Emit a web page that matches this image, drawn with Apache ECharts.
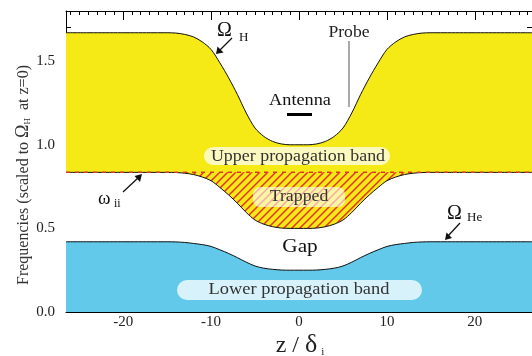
<!DOCTYPE html>
<html><head><meta charset="utf-8">
<script src="https://cdn.jsdelivr.net/npm/echarts@6/dist/echarts.min.js"></script>
<style>html,body{margin:0;padding:0;background:#fff}#c{width:532px;height:356px}</style>
</head><body><div id="c"></div>
<script>
const zValues = [-26.5,-15,-14,-13,-12,-11,-10,-9,-8,-7,-6,-5,-4,-3,-2,-1,0,1,2,3,4,5,6,7,8,9,10,11,12,13,14,15,26.5];
const omegaH  = [1.67,1.67,1.668,1.66,1.645,1.615,1.57,1.49,1.40,1.30,1.19,1.10,1.05,1.02,1.005,1.0,1.0,1.0,1.005,1.02,1.05,1.10,1.19,1.30,1.40,1.49,1.57,1.615,1.645,1.66,1.668,1.67,1.67];
const omegaII = [0.835,0.835,0.834,0.83,0.822,0.807,0.785,0.745,0.70,0.65,0.595,0.55,0.525,0.51,0.502,0.5,0.5,0.5,0.502,0.51,0.525,0.55,0.595,0.65,0.70,0.745,0.785,0.807,0.822,0.83,0.834,0.835,0.835];
const omegaHe = [0.42,0.42,0.419,0.416,0.41,0.403,0.392,0.372,0.35,0.325,0.298,0.275,0.262,0.255,0.251,0.25,0.25,0.25,0.251,0.255,0.262,0.275,0.298,0.325,0.35,0.372,0.392,0.403,0.41,0.416,0.419,0.42,0.42];
const trappedTop = 0.835;
const xRange = [-26.5, 26.5];
const yRange = [0, 1.8];
const xMajor = [-20,-10,0,10,20];
const yMajor = [0,0.5,1.0,1.5];

const xMinor = []; for (let v = -26; v <= 26; v++) xMinor.push(v);
const yMinor = []; for (let i = 0; i <= 18; i++) yMinor.push(+(i*0.1).toFixed(1));

const pat = document.createElement('canvas');
pat.width = 8; pat.height = 8;
const g = pat.getContext('2d');
g.strokeStyle = '#e8302a'; g.lineWidth = 1.5;
g.beginPath();
g.moveTo(-2,10); g.lineTo(10,-2);
g.moveTo(-6,6); g.lineTo(6,-6);
g.moveTo(2,14); g.lineTo(14,2);
g.stroke();

const pts = a => zValues.map((z,i)=>[z,a[i]]);
const serif = '"Liberation Serif", "DejaVu Serif", serif';

function xAx(pos, customTicks, len, labels, line) {
  return {
    type:'value', position:pos, min:xRange[0], max:xRange[1],
    axisLine:{show:line, onZero:false, lineStyle:{color:'#000', width:1}},
    axisTick:{show:true, inside:true, length:len, customValues:customTicks, lineStyle:{color:'#000', width:1}},
    axisLabel:{show:labels, customValues:xMajor, margin:3, color:'#222', fontFamily:serif, fontSize:15},
    splitLine:{show:false}
  };
}
function yAx(pos, customTicks, len, labels, line) {
  return {
    type:'value', position:pos, min:yRange[0], max:yRange[1],
    axisLine:{show:line, onZero:false, lineStyle:{color:'#000', width:1}},
    axisTick:{show:true, inside:true, length:len, customValues:customTicks, lineStyle:{color:'#000', width:1}},
    axisLabel:{show:labels, customValues:yMajor, margin:11, color:'#222', fontFamily:serif, fontSize:15,
      formatter:v=>v.toFixed(1)},
    splitLine:{show:false}
  };
}

const chart = echarts.init(document.getElementById('c'), null, {renderer:'canvas'});
const lineBase = {type:'line', showSymbol:false, symbol:'none', smooth:0.3, animation:false,
  xAxisIndex:0, yAxisIndex:0};

function label(text, x, y, size, color, sx) {
  return {type:'text', x:x, y:y, z:101, scaleX:sx,
    style:{text:text, font:size+'px '+serif, fill:color, align:'center', verticalAlign:'middle'}};
}

chart.setOption({
  animation:false,
  grid:{left:66, right:-3, top:11, bottom:44, show:false},
  xAxis:[xAx('bottom', xMajor, 9, true, true), xAx('bottom', xMinor, 4, false, false),
         xAx('top', xMajor, 9, false, true), xAx('top', xMinor, 4, false, false)],
  yAxis:[yAx('left', yMajor, 11, true, true), yAx('left', yMinor, 5, false, false),
         yAx('right', yMajor, 11, false, true), yAx('right', yMinor, 5, false, false)],
  series:[
    Object.assign({}, lineBase, {name:'ΩH', data:pts(omegaH), z:2,
      lineStyle:{color:'#111', width:1}, areaStyle:{color:'#f5e916', opacity:1}}),
    Object.assign({}, lineBase, {name:'trapped', smooth:false, data:[[xRange[0],trappedTop],[xRange[1],trappedTop]], z:7,
      lineStyle:{color:'#e8302a', width:1.2, type:[4,5]}, areaStyle:{color:{image:pat, repeat:'repeat'}, opacity:1}}),
    Object.assign({}, lineBase, {name:'ωii', data:pts(omegaII), z:8,
      lineStyle:{color:'#111', width:1}, areaStyle:{color:'#ffffff', opacity:1}}),
    Object.assign({}, lineBase, {name:'ΩHe', data:pts(omegaHe), z:9,
      lineStyle:{color:'#111', width:1}, areaStyle:{color:'#62c9ea', opacity:1}}),
    Object.assign({}, lineBase, {name:'trapped edge', smooth:false, data:[[xRange[0],trappedTop],[xRange[1],trappedTop]], z:10,
      lineStyle:{color:'#d83a2a', width:1.2, type:[4,5]}})
  ],
  graphic:{elements:[
    // y-axis title
    {type:'text', x:22, y:175, rotation:Math.PI/2, z:100,
     style:{text:'{a|Frequencies (scaled to }{o|Ω}{s|H}{a|  at z=0)}', align:'center', verticalAlign:'middle',
       rich:{a:{fontFamily:serif, fontSize:16, fill:'#333', verticalAlign:'bottom', lineHeight:20},
             o:{fontFamily:serif, fontSize:18, fill:'#333', verticalAlign:'bottom', lineHeight:20},
             s:{fontFamily:serif, fontSize:9, fill:'#333', verticalAlign:'bottom', lineHeight:14}}}},
    // x-axis title
    {type:'text', x:300, y:345, z:100,
     style:{text:'{a|z / }{d|δ}{s|i}', align:'center', verticalAlign:'middle',
       rich:{a:{fontFamily:serif, fontSize:24, fill:'#222', verticalAlign:'bottom', lineHeight:26},
             d:{fontFamily:serif, fontSize:26, fill:'#222', verticalAlign:'bottom', lineHeight:26},
             s:{fontFamily:serif, fontSize:11, fill:'#222', verticalAlign:'bottom', lineHeight:18, padding:[0,0,0,4]}}}},
    // Omega_H
    {type:'text', x:217, y:31, z:100, style:{text:'Ω', font:'20px '+serif, fill:'#111', verticalAlign:'middle'}},
    {type:'text', x:239, y:38, z:100, style:{text:'H', font:'13px '+serif, fill:'#111', verticalAlign:'middle'}},
    {type:'line', z:100, shape:{x1:232, y1:38, x2:219, y2:51}, style:{stroke:'#111', lineWidth:1.3}},
    {type:'polygon', z:100, shape:{points:[[216,54],[217.5,46.5],[223.5,52.5]]}, style:{fill:'#111'}},
    // Probe
    label('Probe', 349, 33, 16, '#222', 1.1),
    {type:'line', z:100, shape:{x1:349, y1:41, x2:349, y2:107}, style:{stroke:'#555', lineWidth:1}},
    // Antenna
    label('Antenna', 300, 101, 16, '#111', 1.14),
    {type:'rect', z:100, shape:{x:287, y:113, width:25, height:3}, style:{fill:'#000'}},
    // Upper propagation band
    {type:'rect', z:100, shape:{x:204, y:147, width:186, height:18, r:9}, style:{fill:'rgba(255,255,255,0.72)'}},
    label('Upper propagation band', 298, 156.5, 16, '#333', 1.12),
    // Trapped
    {type:'rect', z:100, shape:{x:253, y:187, width:92, height:20, r:7}, style:{fill:'rgba(255,255,255,0.6)'}},
    label('Trapped', 299, 197, 16, '#333', 1.11),
    // Gap
    label('Gap', 300, 247, 19, '#111', 1.12),
    // Lower propagation band
    {type:'rect', z:100, shape:{x:177, y:280, width:245, height:20, r:10}, style:{fill:'rgba(255,255,255,0.75)'}},
    label('Lower propagation band', 299, 290, 16, '#333', 1.15),
    // omega_ii
    {type:'text', x:98, y:199, z:100, style:{text:'ω', font:'19px '+serif, fill:'#111', verticalAlign:'middle'}},
    {type:'text', x:114, y:204, z:100, style:{text:'ii', font:'12px '+serif, fill:'#111', verticalAlign:'middle'}},
    {type:'line', z:100, shape:{x1:123, y1:192, x2:138, y2:178}, style:{stroke:'#111', lineWidth:1.3}},
    {type:'polygon', z:100, shape:{points:[[142,174],[134.5,176],[140,182]]}, style:{fill:'#111'}},
    // Omega_He
    {type:'text', x:447, y:214, z:100, style:{text:'Ω', font:'20px '+serif, fill:'#111', verticalAlign:'middle'}},
    {type:'text', x:467, y:218, z:100, style:{text:'He', font:'13px '+serif, fill:'#111', verticalAlign:'middle'}},
    {type:'line', z:100, shape:{x1:460, y1:223, x2:448, y2:236}, style:{stroke:'#111', lineWidth:1.3}},
    {type:'polygon', z:100, shape:{points:[[445,240],[446.5,232.5],[452,238]]}, style:{fill:'#111'}}
  ]}
});
</script></body></html>
